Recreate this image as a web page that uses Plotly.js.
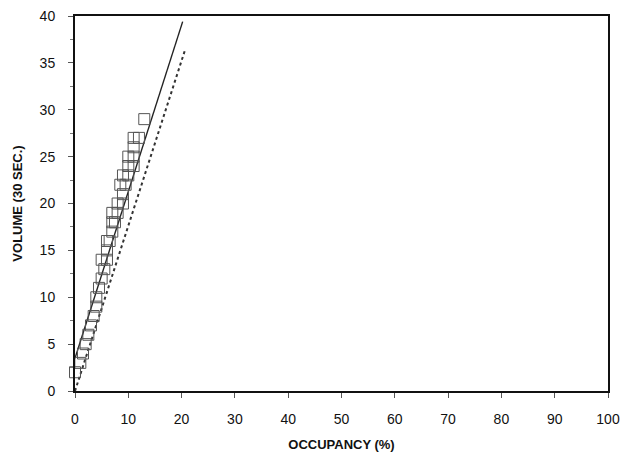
<!DOCTYPE html>
<html>
<head>
<meta charset="utf-8">
<script src="https://cdn.plot.ly/plotly-3.0.1.min.js"></script>
<style>html,body{margin:0;padding:0;background:#fff;}#chart{width:626px;height:455px;}</style>
</head>
<body>
<div id="chart"></div>
<script>
// Observed points: occupancy (%) and volume (30 sec.)
const occupancy = [0, 1, 1.5, 2, 2.5, 3, 3.5, 4, 4, 4.5, 5, 5.5, 5, 6, 6, 6, 6.5, 7, 7, 7.5, 7, 8, 8, 9, 9, 8.5, 9.5, 9, 10, 10, 11, 10, 11, 11, 11, 12, 13];
const volume    = [2, 3, 4, 5, 6, 7, 8, 9, 10, 11, 12, 13, 14, 14, 15, 16, 16, 17, 18, 18, 19, 19, 20, 20, 21, 22, 22, 23, 23, 24, 24, 25, 25, 26, 27, 27, 29];
// Solid fitted line
const solidX = [0, 20.2];
const solidY = [3.5, 39.4];
// Dotted line
const dotX = [0, 20.6];
const dotY = [0, 36.3];
const xTicks = [0,10,20,30,40,50,60,70,80,90,100];
const yTicks = [0,5,10,15,20,25,30,35,40];

const traces = [
  {x: solidX, y: solidY, mode: 'lines', line: {color: '#222', width: 1.4}, hoverinfo: 'skip'},
  {x: dotX, y: dotY, mode: 'lines', line: {color: '#333', width: 2, dash: 'dot'}, hoverinfo: 'skip'},
  {x: occupancy, y: volume, mode: 'markers', cliponaxis: false, marker: {symbol: 'square-open', size: 11, color: '#555', line: {width: 1, color: '#555'}}}
];

const tfont = {family: 'Liberation Sans, Arial, sans-serif', size: 14, color: '#111'};
const layout = {
  width: 626, height: 455,
  margin: {l: 75, r: 18, t: 16, b: 64},
  paper_bgcolor: '#fff', plot_bgcolor: '#fff',
  showlegend: false,
  font: tfont,
  xaxis: {
    range: [0, 100], tickvals: xTicks, ticktext: xTicks.map(String),
    showgrid: false, zeroline: false, showline: true, mirror: true,
    linecolor: '#111', linewidth: 2, ticks: 'outside', ticklen: 5, tickcolor: '#555', tickwidth: 1,
    ticklabelstandoff: 9, tickfont: tfont,
    title: {text: '<b>OCCUPANCY (%)</b>', font: {family: 'Liberation Sans, Arial, sans-serif', size: 13, color: '#111'}, standoff: 14}
  },
  yaxis: {
    range: [0, 40], tickvals: yTicks, ticktext: yTicks.map(String),
    showgrid: false, zeroline: false, showline: true, mirror: true,
    linecolor: '#111', linewidth: 2, ticks: 'outside', ticklen: 5, tickcolor: '#555', tickwidth: 1,
    minor: {dtick: 2.5, ticks: 'outside', ticklen: 3, tickcolor: '#777'},
    ticklabelstandoff: 10, tickfont: tfont,
    title: {text: '<b>VOLUME (30 SEC.)</b>', font: {family: 'Liberation Sans, Arial, sans-serif', size: 13, color: '#111'}, standoff: 14}
  }
};
Plotly.newPlot('chart', traces, layout, {staticPlot: true, displayModeBar: false});
</script>
</body>
</html>
